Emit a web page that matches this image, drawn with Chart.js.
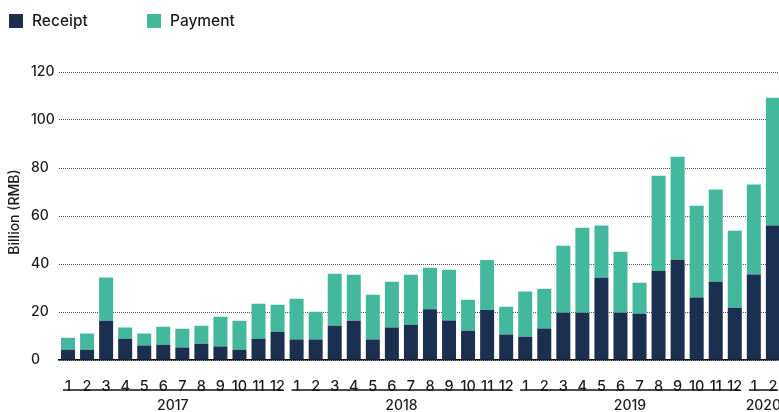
<!DOCTYPE html>
<html>
<head>
<meta charset="utf-8">
<script src="https://cdn.jsdelivr.net/npm/chart.js@4/dist/chart.umd.min.js"></script>
<style>
  html, body { margin: 0; padding: 0; background: #fff; overflow: hidden; }
  #wrap { position: relative; width: 790px; height: 412px; }
  #legend { position: absolute; left: 9px; top: 12px; font: 500 15.5px Inter, sans-serif; color: #1d1d1d; }
  #legend span.item { position: absolute; top: 0; white-space: nowrap; line-height: 18px; }
  #legend i { display: inline-block; width: 14px; height: 14px; vertical-align: -2px; margin-right: 9px; }
</style>
</head>
<body>
<div id="wrap">
  <canvas id="chart" width="790" height="412"></canvas>
  <div id="legend">
    <span class="item" style="left:0"><i style="background:#1b2f51"></i>Receipt</span>
    <span class="item" style="left:138px"><i style="background:#43b89c"></i>Payment</span>
  </div>
</div>
<script>
const monthLabels = ['1','2','3','4','5','6','7','8','9','10','11','12',
                     '1','2','3','4','5','6','7','8','9','10','11','12',
                     '1','2','3','4','5','6','7','8','9','10','11','12',
                     '1','2'];
const yearLabels = ['2017', '2018', '2019', '2020'];
const monthsPerYear = [12, 12, 12, 2];

const receipt = [4.3, 4.3, 16.4, 8.9, 6.0, 6.4, 5.2, 6.8, 5.6, 4.3, 8.9, 11.8,
                 8.5, 8.5, 14.3, 16.4, 8.5, 13.5, 14.7, 21.1, 16.5, 12.2, 20.8, 10.6,
                 9.7, 13.1, 19.7, 19.7, 34.3, 19.7, 19.3, 37.2, 41.8, 26.0, 32.6, 21.8,
                 35.6, 56.0];
const payment = [5.0, 6.7, 18.0, 4.6, 5.0, 7.5, 7.8, 7.5, 12.4, 12.1, 14.5, 11.2,
                 17.0, 11.6, 21.6, 19.1, 18.7, 19.1, 20.8, 17.3, 21.1, 12.9, 20.9, 11.6,
                 18.8, 16.6, 27.9, 35.4, 21.7, 25.4, 12.9, 39.6, 42.9, 38.3, 38.4, 32.1,
                 37.5, 53.3];

const textColor = '#1d1d1d';
const fontFamily = 'Inter, sans-serif';

// year groups under the month labels + rotated y title
const extras = {
  id: 'extras',
  afterDraw(chart) {
    const ctx = chart.ctx;
    const x = chart.scales.x;
    ctx.save();
    let start = 0;
    yearLabels.forEach(function (yr, i) {
      const end = start + monthsPerYear[i] - 1;
      const x0 = x.getPixelForValue(start) - 5;
      const x1 = x.getPixelForValue(end) + 5;
      ctx.strokeStyle = '#111';
      ctx.lineWidth = 1.5;
      ctx.beginPath();
      ctx.moveTo(x0, 390);
      ctx.lineTo(x1, 390);
      ctx.stroke();
      ctx.fillStyle = textColor;
      ctx.font = '500 14px ' + fontFamily;
      ctx.textAlign = 'center';
      ctx.textBaseline = 'middle';
      ctx.fillText(yr, (x0 + x1) / 2, 406);
      start = end + 1;
    });
    ctx.translate(15, 212);
    ctx.rotate(-Math.PI / 2);
    ctx.font = '500 14px ' + fontFamily;
    ctx.textAlign = 'center';
    ctx.textBaseline = 'middle';
    ctx.fillText('Billion (RMB)', 0, 0);
    ctx.restore();
  }
};

let context = document.querySelector('#chart').getContext('2d');
new Chart(context, {
  type: 'bar',
  data: {
    labels: monthLabels,
    datasets: [{
      label: 'Receipt',
      data: receipt,
      backgroundColor: '#1b2f51',
      barPercentage: 0.735,
      categoryPercentage: 1
    }, {
      label: 'Payment',
      data: payment,
      backgroundColor: '#43b89c',
      barPercentage: 0.735,
      categoryPercentage: 1
    }]
  },
  options: {
    responsive: false,
    animation: false,
    layout: { padding: { left: 31, right: 7.6, top: 72, bottom: 0 } },
    plugins: {
      legend: { display: false },
      tooltip: { enabled: false }
    },
    scales: {
      x: {
        stacked: true,
        grid: { display: false },
        border: { display: true, color: '#111', width: 1.5 },
        ticks: {
          color: textColor,
          font: { family: fontFamily, size: 14.5, weight: '500' },
          padding: 10,
          autoSkip: false,
          maxRotation: 0
        },
        afterFit: function (s) { s.height = 52; }
      },
      y: {
        stacked: true,
        min: 0,
        max: 120,
        grid: { color: '#555', drawTicks: false },
        border: { display: false, dash: [1, 1] },
        ticks: {
          stepSize: 20,
          color: textColor,
          font: { family: fontFamily, size: 14, weight: '500' },
          crossAlign: 'far',
          padding: 0
        },
        afterFit: function (s) { s.width = 27.5; }
      }
    }
  },
  plugins: [extras]
});
</script>
</body>
</html>
